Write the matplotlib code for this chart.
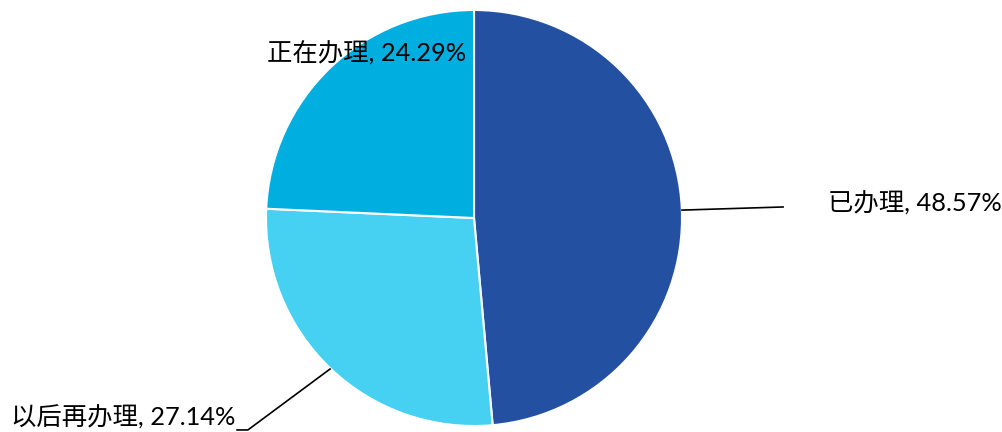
import matplotlib.pyplot as plt

labels = ['已办理', '以后再办理', '正在办理']
values = [48.57, 27.14, 24.29]
colors = ['#2350A0', '#46D0F2', '#00AEDF']

plt.rcParams['font.family'] = ['Lato', 'Noto Sans CJK SC', 'DejaVu Sans']

fig = plt.figure(figsize=(10.03, 4.32), dpi=100)
# квадратная область под круг, центр (474, 218), радиус 208 px
ax = fig.add_axes([(474 - 208) / 1003, (432 - 218 - 208) / 432, 416 / 1003, 416 / 432])
ax.pie(values, colors=colors, startangle=90, counterclock=False, radius=1,
       wedgeprops=dict(edgecolor='white', linewidth=1.5))
ax.set_xlim(-1, 1)
ax.set_ylim(-1, 1)
ax.set_aspect('equal')
ax.axis('off')

fs = 18.3
txt = [f'{l}, {v:.2f}%' for l, v in zip(labels, values)]

# подписи и выноски
ax.plot([1.0, 1.486], [0.038, 0.053], color='black', lw=1.2, clip_on=False)
ax.text(1.70, 0.072, txt[0], fontsize=fs, ha='left', va='center', clip_on=False)

ax.plot([-0.692, -1.087, -1.139], [-0.726, -1.019, -1.019], color='black', lw=1.2, clip_on=False)
ax.text(-1.149, -0.957, txt[1], fontsize=fs, ha='right', va='center', clip_on=False)

ax.text(-0.038, 0.793, txt[2], fontsize=fs, ha='right', va='center', clip_on=False)

fig.savefig('out.png', dpi=100)
